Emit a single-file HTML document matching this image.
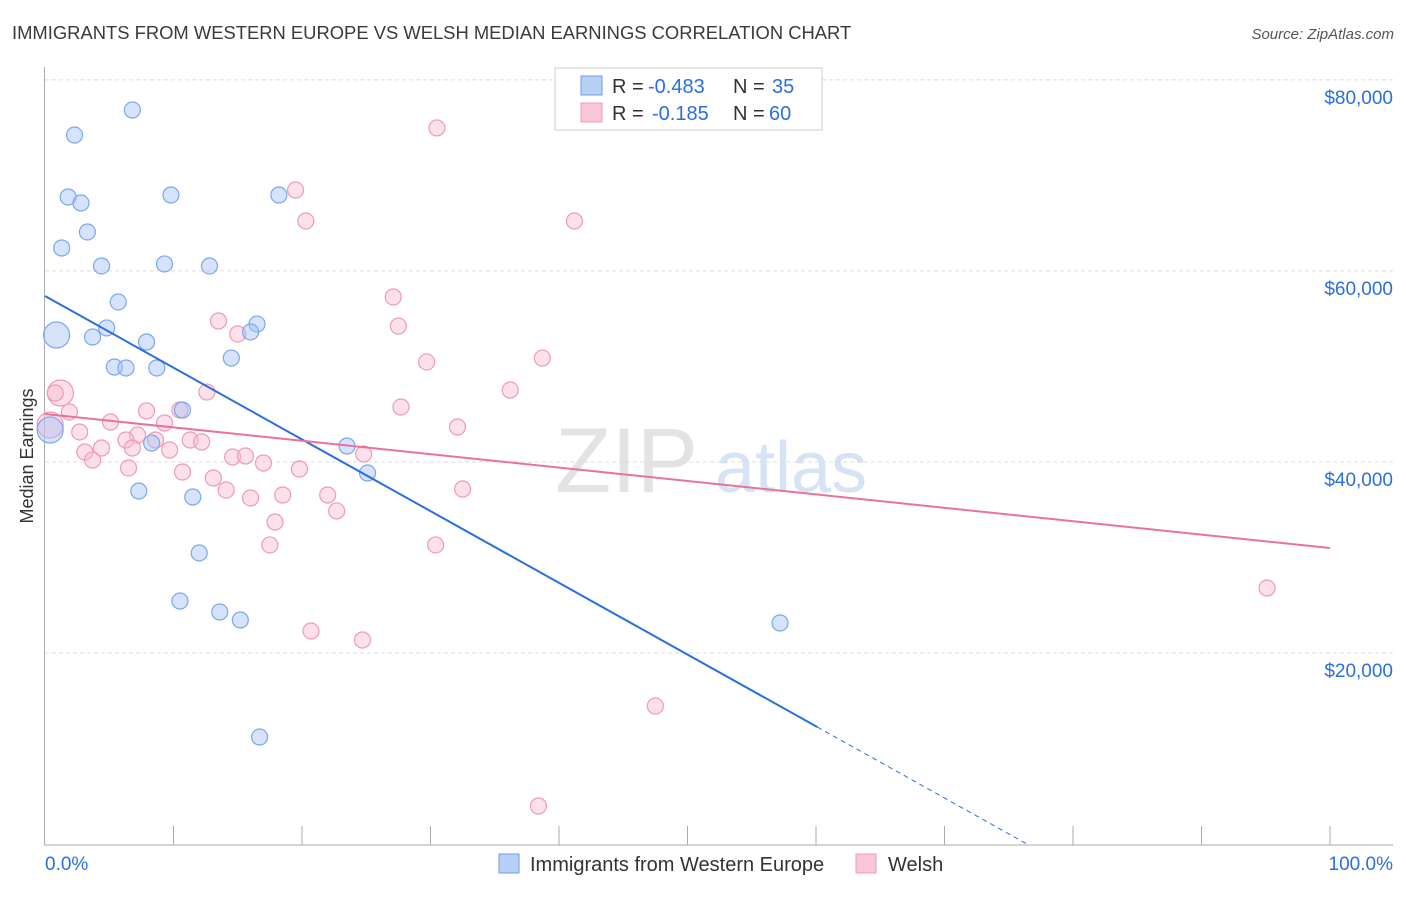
<!DOCTYPE html>
<html><head><meta charset="utf-8"><style>
body{margin:0;background:#fff;font-family:"Liberation Sans",sans-serif;}
svg text{font-family:"Liberation Sans",sans-serif;}
</style></head><body>
<svg id="c" width="1406" height="892" xmlns="http://www.w3.org/2000/svg">
<text x="12" y="39" font-size="18.4" fill="#3a3a3a">IMMIGRANTS FROM WESTERN EUROPE VS WELSH MEDIAN EARNINGS CORRELATION CHART</text>
<text x="1394" y="39" font-size="15" fill="#555" font-style="italic" text-anchor="end">Source: ZipAtlas.com</text>
<text transform="translate(33,456) rotate(-90)" font-size="18" fill="#333" text-anchor="middle">Median Earnings</text>
<g><text x="555" y="492" font-size="92" fill="#e3e3e3" font-family="Liberation Serif,serif">ZIP</text><text x="715" y="492" font-size="72" fill="#d6e3f5">atlas</text></g>
<g id="grid"></g><g id="axes"></g><g id="pts"></g><g id="lines"></g>
<g>
<rect x="555" y="68" width="267" height="62" fill="#fff" stroke="#ccc"/>
<rect x="581" y="76" width="21" height="19" fill="#b7d0f5" stroke="#6d9eeb"/>
<rect x="581" y="103" width="21" height="19" fill="#f9c6d6" stroke="#f09ab5"/>
<text x="612" y="93" font-size="20" fill="#333">R =</text><text x="648" y="93" font-size="20" fill="#2a6fdb">-0.483</text>
<text x="733" y="93" font-size="20" fill="#333">N =</text><text x="772" y="93" font-size="20" fill="#2a6fdb">35</text>
<text x="612" y="120" font-size="20" fill="#333">R =</text><text x="652" y="120" font-size="20" fill="#2a6fdb">-0.185</text>
<text x="733" y="120" font-size="20" fill="#333">N =</text><text x="769" y="120" font-size="20" fill="#2a6fdb">60</text>
</g>
<g>
<rect x="499" y="854" width="20" height="19" fill="#b7d0f5" stroke="#6d9eeb"/>
<text x="530" y="871" font-size="20" fill="#333">Immigrants from Western Europe</text>
<rect x="856" y="854" width="20" height="19" fill="#f9c6d6" stroke="#f09ab5"/>
<text x="888" y="871" font-size="20" fill="#333">Welsh</text>
</g>
</svg>
<script>
const yTicks=[20000,40000,60000,80000];
const yTickLabels=["$20,000","$40,000","$60,000","$80,000"];
const xTickLabels=["0.0%","100.0%"];
const blueX=[2.3,6.8,1.8,2.8,9.8,18.2,3.3,1.3,4.4,9.3,12.8,5.7,4.8,3.7,0.9,7.9,16.5,16.0,14.5,5.4,6.3,8.7,10.7,8.3,23.5,25.1,7.3,11.5,12.0,10.5,13.6,15.2,57.2,16.7,0.4];
const blueY=[74230,76850,67740,67110,67950,67950,64080,62400,60520,60730,60520,56750,54030,53080,53290,52560,54440,53610,50880,49940,49840,49840,45440,41980,41670,38840,36960,36330,30470,25440,24290,23450,23140,11200,43350];
const blueBig=[14,34];
const pinkX=[30.5,19.5,20.3,41.2,27.1,13.5,27.5,15.0,29.7,38.7,36.2,12.6,1.2,0.8,27.7,1.9,7.9,10.5,5.1,9.3,32.1,2.7,7.2,6.3,11.3,12.2,8.6,4.4,3.1,6.8,9.7,24.8,14.6,15.6,3.7,17.0,19.8,6.5,10.7,13.1,32.5,14.1,18.5,22.0,16.0,22.7,17.9,17.5,30.4,20.7,24.7,95.1,47.5,38.4,0.4];
const pinkY=[74970,68470,65230,65230,57270,54760,54230,53400,50470,50880,47530,47320,47220,47220,45750,45230,45340,45440,44180,44080,43660,43140,42820,42300,42300,42090,42300,41460,41040,41460,41250,40830,40520,40620,40200,39890,39260,39370,38950,38320,37170,37060,36540,36540,36230,34870,33710,31310,31310,22300,21360,26800,14450,3980,43870];
const pinkBig=[12,54];
const blueTrend=[57380,12250,60.1];
const pinkTrend=[45020,30990];
const NS="http://www.w3.org/2000/svg";
const X=v=>45+v*12.85, Y=v=>844-v/104.7;
function mk(p,t,a){const e=document.createElementNS(NS,t);for(const k in a)e.setAttribute(k,a[k]);p.appendChild(e);return e;}
const grid=document.getElementById('grid'),axes=document.getElementById('axes'),pts=document.getElementById('pts'),lines=document.getElementById('lines');
yTicks.forEach((t,i)=>{
 const g=mk(grid,'line',{x1:45,x2:1393,y1:Y(t),y2:Y(t),stroke:'#ddd','stroke-dasharray':'4,3'});
 
 
 const l=mk(axes,'text',{x:1393,y:Y(t)+24,'font-size':19,fill:'#2a6fdb','text-anchor':'end'});l.textContent=yTickLabels[i];
 
 
});
mk(axes,'line',{x1:44.5,x2:44.5,y1:67,y2:845,stroke:'#aaa'});
mk(axes,'line',{x1:44,x2:1393,y1:845,y2:845,stroke:'#aaa'});
for(let i=1;i<=10;i++){mk(axes,'line',{x1:X(i*10),x2:X(i*10),y1:826,y2:845,stroke:'#aaa'});}
const xl0=mk(axes,'text',{x:45,y:870,'font-size':19,fill:'#2a6fdb'});xl0.textContent=xTickLabels[0];


const xl1=mk(axes,'text',{x:1393,y:870,'font-size':19,fill:'#2a6fdb','text-anchor':'end'});xl1.textContent=xTickLabels[1];


function dots(xs,ys,big,fill,stroke,name){xs.forEach((x,i)=>{
 const c=mk(pts,'circle',{cx:X(x),cy:Y(ys[i]),r:big.includes(i)?13:8,fill:fill,stroke:stroke,'stroke-width':1.2});
 
 
});}
dots(pinkX,pinkY,pinkBig,'rgba(248,187,208,0.45)','#f09ab5','welsh-point');
dots(blueX,blueY,blueBig,'rgba(164,194,244,0.45)','#7aa7ee','immigrants-point');
const slope=(blueTrend[1]-blueTrend[0])/blueTrend[2];
const bl=mk(lines,'line',{x1:X(0),y1:Y(blueTrend[0]),x2:X(blueTrend[2]),y2:Y(blueTrend[1]),stroke:'#2a6fdb','stroke-width':2});


const xEnd=-blueTrend[0]/slope;
const bd=mk(lines,'line',{x1:X(blueTrend[2]),y1:Y(blueTrend[1]),x2:X(xEnd),y2:Y(0),stroke:'#2a6fdb','stroke-width':1,'stroke-dasharray':'5,4'});


const pl=mk(lines,'line',{x1:X(0),y1:Y(pinkTrend[0]),x2:X(100),y2:Y(pinkTrend[1]),stroke:'#e8739a','stroke-width':2});


</script>
</body></html>
